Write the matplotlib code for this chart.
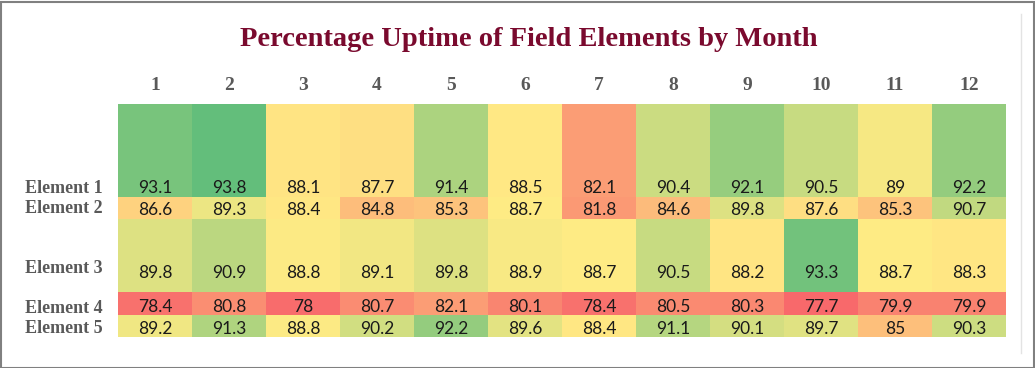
import numpy as np
import matplotlib
matplotlib.use("Agg")
import matplotlib.pyplot as plt
from matplotlib.colors import LinearSegmentedColormap, TwoSlopeNorm
from matplotlib.patches import Rectangle
from matplotlib.lines import Line2D

months = [str(m) for m in range(1, 13)]
elements = ["Element 1", "Element 2", "Element 3", "Element 4", "Element 5"]
element_1 = [93.1, 93.8, 88.1, 87.7, 91.4, 88.5, 82.1, 90.4, 92.1, 90.5, 89, 92.2]
element_2 = [86.6, 89.3, 88.4, 84.8, 85.3, 88.7, 81.8, 84.6, 89.8, 87.6, 85.3, 90.7]
element_3 = [89.8, 90.9, 88.8, 89.1, 89.8, 88.9, 88.7, 90.5, 88.2, 93.3, 88.7, 88.3]
element_4 = [78.4, 80.8, 78, 80.7, 82.1, 80.1, 78.4, 80.5, 80.3, 77.7, 79.9, 79.9]
element_5 = [89.2, 91.3, 88.8, 90.2, 92.2, 89.6, 88.4, 91.1, 90.1, 89.7, 85, 90.3]

uptime = np.array([element_1, element_2, element_3, element_4, element_5])

# layout: row boundaries in pixels below the top of the grid (rows have uneven heights)
W, H = 1035, 368
row_edges = [0, 92.7, 115.3, 187.7, 210.7, 232.7]
value_pad = [4, 4, 14, 3, 3]      # text baseline distance from cell bottom
label_pad = [4, 6, 19, 2, 4]

fig = plt.figure(figsize=(W / 100, H / 100), dpi=100)
grid_left, grid_right, grid_top = 118, 1006, 104
ax = fig.add_axes([grid_left / W, 1 - (grid_top + row_edges[-1]) / H,
                   (grid_right - grid_left) / W, row_edges[-1] / H])

cmap = LinearSegmentedColormap.from_list("excel", ["#F8696B", "#FFEB84", "#63BE7B"])
norm = TwoSlopeNorm(vmin=uptime.min(), vcenter=np.percentile(uptime, 50), vmax=uptime.max())

ax.pcolormesh(np.arange(len(months) + 1), row_edges, uptime, cmap=cmap, norm=norm)
ax.set_xlim(0, len(months))
ax.set_ylim(row_edges[-1], 0)
ax.axis("off")

for i in range(len(elements)):
    for j in range(len(months)):
        v = uptime[i, j]
        ax.text(j + 0.5, row_edges[i + 1] - value_pad[i], f"{v:g}", ha="center", va="baseline",
                fontsize=12.5, family="Lato", color="#1a1a1a")
    ax.text(-93 / 74, row_edges[i + 1] - label_pad[i], elements[i], ha="left", va="baseline",
            fontsize=13, family="Liberation Serif", fontweight="bold", color="#595959",
            clip_on=False)

for j, m in enumerate(months):
    ax.text(j + 0.5, -14, m, ha="center", va="baseline", fontsize=14,
            family="Liberation Serif", fontweight="bold", color="#595959", clip_on=False)

fig.text(529 / W, 1 - 46 / H, "Percentage Uptime of Field Elements by Month", ha="center",
         va="baseline", fontsize=20.5, family="Liberation Serif", fontweight="bold", color="#7A0A2E")

fig.patches.append(Rectangle((0.5 / W, 0.5 / H), 1 - 2 / W, 1 - 2 / H, transform=fig.transFigure,
                             fill=False, edgecolor="#808080", linewidth=1.5))
fig.lines.append(Line2D([1021 / W, 1021 / W], [1 - 353 / H, 1 - 14 / H], transform=fig.transFigure,
                        color="#e3e3e3", linewidth=1))

fig.savefig("out.png", dpi=100)
